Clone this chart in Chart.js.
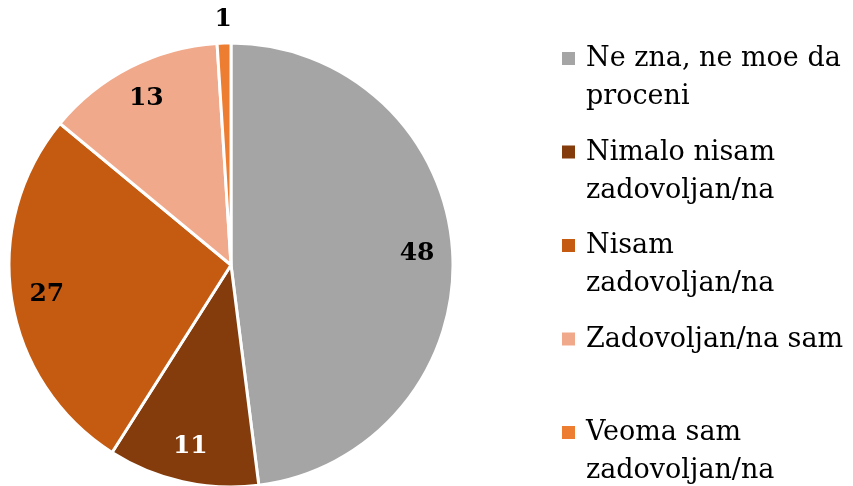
<!DOCTYPE html>
<html>
<head>
<meta charset="utf-8">
<script src="https://cdn.jsdelivr.net/npm/chart.js@4.4.1/dist/chart.umd.min.js"></script>
<style>
  html, body { margin: 0; padding: 0; background: #fff; }
  #wrap { width: 853px; height: 486px; }
</style>
</head>
<body>
<div id="wrap"><canvas id="canvas" width="853" height="486"></canvas></div>
<script>
  'use strict'

  var labels = [
    ['Ne zna, ne moe da', 'proceni'],
    ['Nimalo nisam', 'zadovoljan/na'],
    ['Nisam', 'zadovoljan/na'],
    ['Zadovoljan/na sam'],
    ['Veoma sam', 'zadovoljan/na']
  ]
  var values = [48, 11, 27, 13, 1]
  var colors = ['#A5A5A5', '#843C0C', '#C55A11', '#F0A98A', '#ED7D31']
  var labelColors = ['#000', '#fff', '#000', '#000', '#000']

  var serif = '"DejaVu Serif", "Liberation Serif", serif'

  // value labels inside the slices (the tiny one goes outside)
  var sliceLabels = {
    id: 'sliceLabels',
    afterDatasetsDraw: function (chart) {
      var ctx = chart.ctx
      var meta = chart.getDatasetMeta(0)
      ctx.save()
      ctx.font = 'bold 25px ' + serif
      ctx.textAlign = 'center'
      ctx.textBaseline = 'middle'
      meta.data.forEach(function (arc, i) {
        var p = arc.getProps(['x', 'y', 'startAngle', 'endAngle', 'outerRadius'], true)
        var mid = (p.startAngle + p.endAngle) / 2
        var r = values[i] < 3 ? p.outerRadius + 24 : p.outerRadius * 0.84
        ctx.fillStyle = labelColors[i]
        ctx.fillText(String(values[i]), p.x + Math.cos(mid) * r, p.y + Math.sin(mid) * r)
      })
      ctx.restore()
    }
  }

  // legend on the right with wrapped lines
  var sideLegend = {
    id: 'sideLegend',
    afterDraw: function (chart) {
      var ctx = chart.ctx
      var x0 = 562
      var y0 = 59
      var slot = 93.5
      var lineH = 38
      ctx.save()
      ctx.font = '27px ' + serif
      ctx.textBaseline = 'middle'
      ctx.textAlign = 'left'
      labels.forEach(function (lines, i) {
        var y = y0 + i * slot
        ctx.fillStyle = colors[i]
        ctx.fillRect(x0, y - 7, 13, 13)
        ctx.fillStyle = '#000'
        lines.forEach(function (t, j) {
          ctx.fillText(t, x0 + 24, y + j * lineH)
        })
      })
      ctx.restore()
    }
  }

  var context = document.getElementById('canvas').getContext('2d')
  new Chart(context, {
    type: 'pie',
    data: {
      labels: labels,
      datasets: [{
        data: values,
        backgroundColor: colors,
        borderColor: '#fff',
        borderWidth: 3,
        radius: 222
      }]
    },
    options: {
      responsive: false,
      animation: false,
      layout: {
        padding: { left: 0, right: 391, top: 44, bottom: 0 }
      },
      plugins: {
        legend: { display: false },
        tooltip: { enabled: false }
      }
    },
    plugins: [sliceLabels, sideLegend]
  })
</script>
</body>
</html>
